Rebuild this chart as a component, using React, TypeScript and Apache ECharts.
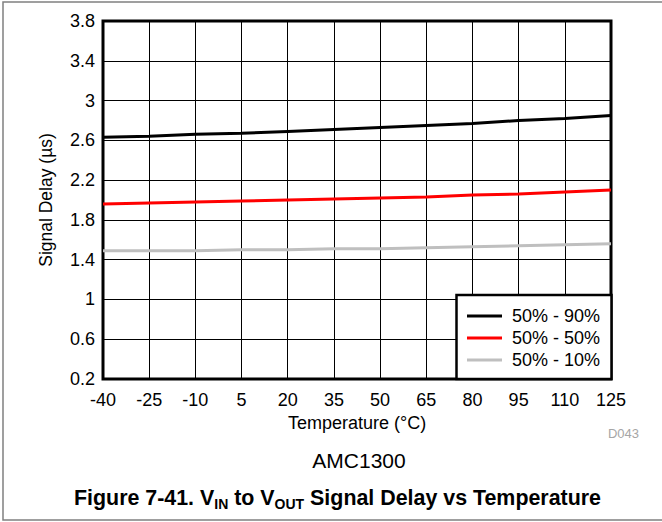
import React, { useEffect, useRef } from "react";
import * as echarts from "echarts";

const temperatures = [-40, -25, -10, 5, 20, 35, 50, 65, 80, 95, 110, 125];
const delay90 = [2.63, 2.64, 2.66, 2.67, 2.69, 2.71, 2.73, 2.75, 2.77, 2.8, 2.82, 2.85];
const delay50 = [1.96, 1.97, 1.98, 1.99, 2.0, 2.01, 2.02, 2.03, 2.05, 2.06, 2.08, 2.1];
const delay10 = [1.49, 1.49, 1.49, 1.5, 1.5, 1.51, 1.51, 1.52, 1.53, 1.54, 1.55, 1.56];
const seriesNames = ["50% - 90%", "50% - 50%", "50% - 10%"];
const seriesColors = ["#000000", "#ff0000", "#bfbfbf"];

const FONT = "'Liberation Sans', Arial, sans-serif";

export default function App() {
  const ref = useRef<HTMLDivElement>(null);
  useEffect(() => {
    if (!ref.current) return;
    const chart = echarts.init(ref.current, undefined, { renderer: "svg" });
    const seriesData = [delay90, delay50, delay10];
    chart.setOption({
      animation: false,
      backgroundColor: "#ffffff",
      textStyle: { fontFamily: FONT },
      grid: {
        left: 103,
        top: 21,
        width: 508,
        height: 358,
        show: true,
        borderColor: "#000",
        borderWidth: 3,
        backgroundColor: "transparent",
      },
      xAxis: {
        type: "value",
        min: -40,
        max: 125,
        interval: 15,
        name: "Temperature (°C)",
        nameLocation: "middle",
        nameGap: 35,
        nameTextStyle: { fontSize: 18, color: "#000", fontFamily: FONT },
        axisLine: { show: false },
        axisTick: { show: false },
        axisLabel: { fontSize: 18, color: "#000", margin: 12, fontFamily: FONT },
        splitLine: { show: true, lineStyle: { color: "#000", width: 1 } },
      },
      yAxis: {
        type: "value",
        min: 0.2,
        max: 3.8,
        interval: 0.4,
        name: "Signal Delay (µs)",
        nameLocation: "middle",
        nameGap: 48,
        nameTextStyle: { fontSize: 17.5, color: "#000", fontFamily: FONT },
        axisLine: { show: false },
        axisTick: { show: false },
        axisLabel: {
          fontSize: 18,
          color: "#000",
          margin: 8,
          fontFamily: FONT,
          formatter: (v: number) => String(Math.round(v * 10) / 10),
        },
        splitLine: { show: true, lineStyle: { color: "#000", width: 1 } },
      },
      legend: {
        orient: "vertical",
        left: 467,
        top: 305,
        padding: 0,
        itemGap: 0,
        itemWidth: 35,
        itemHeight: 3,
        icon: "rect",
        z: 20,
        data: seriesNames,
        textStyle: {
          fontSize: 18,
          color: "#000",
          lineHeight: 22,
          padding: [0, 0, 0, 5],
          fontFamily: FONT,
        },
      },
      graphic: [
        {
          type: "rect",
          z: 10,
          shape: { x: 456.5, y: 295, width: 155, height: 84 },
          style: { fill: "#fff", stroke: "#000", lineWidth: 2.5 },
        },
        {
          type: "rect",
          z: 1,
          silent: true,
          shape: { x: 3, y: 2, width: 700, height: 518 },
          style: { fill: "none", stroke: "#808080", lineWidth: 1.5 },
        },
        {
          type: "text",
          z: 10,
          x: 639,
          y: 433,
          style: {
            text: "D043",
            fill: "#a6a6a6",
            font: `13px ${FONT}`,
            align: "right",
            verticalAlign: "middle",
          },
        },
        {
          type: "text",
          z: 10,
          x: 359,
          y: 460,
          style: {
            text: "AMC1300",
            fill: "#000",
            font: `21px ${FONT}`,
            align: "center",
            verticalAlign: "middle",
          },
        },
        {
          type: "text",
          z: 10,
          x: 74,
          y: 498,
          style: {
            text: "{a|Figure 7-41. V}{s|IN}{a| to V}{s|OUT}{a| Signal Delay vs Temperature}",
            align: "left",
            verticalAlign: "middle",
            rich: {
              a: {
                fontFamily: FONT,
                fontWeight: "bold",
                fontSize: 21.4,
                lineHeight: 26,
                fill: "#000",
                color: "#000",
              },
              s: {
                fontFamily: FONT,
                fontWeight: "bold",
                fontSize: 14,
                lineHeight: 14,
                verticalAlign: "bottom",
                fill: "#000",
                color: "#000",
              },
            },
          },
        },
      ],
      series: seriesNames.map((name, i) => ({
        name,
        type: "line",
        data: temperatures.map((t, j) => [t, seriesData[i][j]]),
        showSymbol: false,
        symbol: "none",
        z: 5,
        lineStyle: { color: seriesColors[i], width: 3 },
        itemStyle: { color: seriesColors[i] },
      })),
    });
    return () => chart.dispose();
  }, []);
  return (
    <div
      ref={ref}
      style={{ position: "fixed", left: 0, top: 0, width: 662, height: 522 }}
    />
  );
}
